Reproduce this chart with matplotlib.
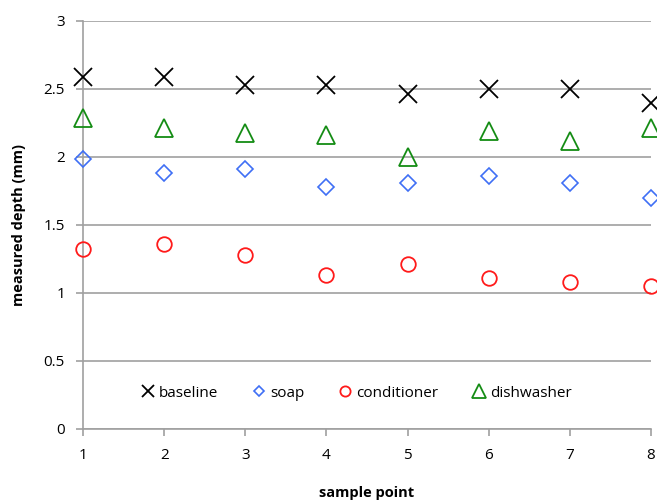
import numpy as np
import matplotlib.pyplot as plt

plt.rcParams['font.family'] = ['Open Sans', 'DejaVu Sans']

samples = [1, 2, 3, 4, 5, 6, 7, 8]
baseline = [2.59, 2.59, 2.53, 2.53, 2.46, 2.50, 2.50, 2.40]
soap = [1.985, 1.88, 1.91, 1.78, 1.81, 1.86, 1.81, 1.70]
conditioner = [1.32, 1.36, 1.28, 1.13, 1.21, 1.11, 1.08, 1.05]
dishwasher = [2.29, 2.21, 2.18, 2.16, 2.00, 2.19, 2.12, 2.21]

fig = plt.figure(figsize=(6.57, 5.01), dpi=100)
ax = fig.add_axes([83/657, 1-429/501, (651-83)/657, (429-21)/501])

ax.plot(samples, baseline, ls='none', marker='x', ms=13, mew=1.3, color='black', label='baseline', clip_on=False, zorder=3)
ax.plot(samples, soap, ls='none', marker='D', ms=8, mew=1.2, mfc='none', mec='#3f6ff5', label='soap', clip_on=False, zorder=3)
ax.plot(samples, conditioner, ls='none', marker='o', ms=10.5, mew=1.3, mfc='none', mec='#ff1a1a', label='conditioner', clip_on=False, zorder=3)
ax.plot(samples, dishwasher, ls='none', marker='^', ms=13.5, mew=1.3, mfc='none', mec='#148c14', label='dishwasher', clip_on=False, zorder=3)

ax.set_xlim(1, 8)
ax.set_ylim(0, 3)
ax.set_xticks(samples)
ax.set_yticks([0, 0.5, 1, 1.5, 2, 2.5, 3])
ax.set_yticklabels(['0', '0.5', '1', '1.5', '2', '2.5', '3'])
ax.grid(axis='y', color='#a0a0a0', lw=1.2)
ax.set_axisbelow(True)
for s in ['top', 'right']:
    ax.spines[s].set_visible(False)
for s in ['left', 'bottom']:
    ax.spines[s].set_color('#a0a0a0')
    ax.spines[s].set_linewidth(1.2)
ax.tick_params(colors='#a0a0a0', labelcolor='black', labelsize=11, length=5, width=1.2)
ax.tick_params(axis='x', pad=9)
ax.tick_params(axis='y', pad=8)

ax.set_xlabel('sample point', fontsize=10.5, fontweight='bold', labelpad=16)
ax.set_ylabel('measured depth (mm)', fontsize=10.5, fontweight='bold', labelpad=13)

ax.legend(loc='center', bbox_to_anchor=(0.482, 0.088), ncol=4, frameon=False, fontsize=11,
          handlelength=0.8, handletextpad=0.3, columnspacing=2.3, markerscale=0.7)

fig.savefig('out.png', dpi=100)
